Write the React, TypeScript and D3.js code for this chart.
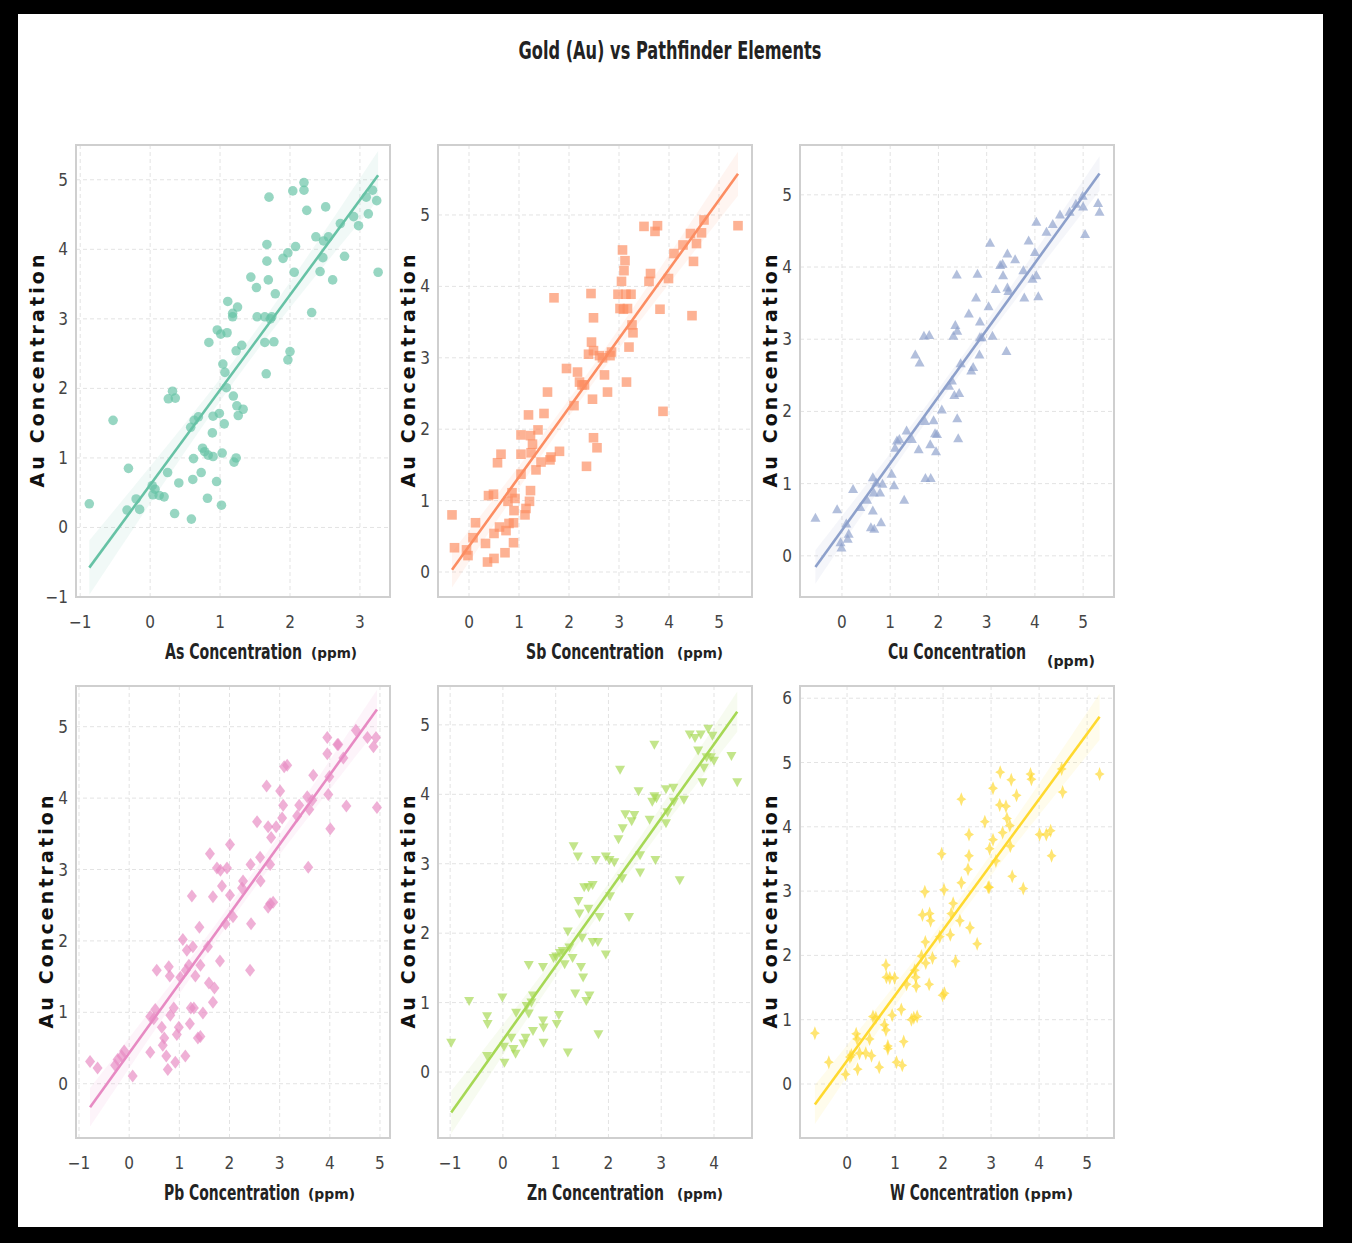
import React from "react";
import * as d3 from "d3";

const title = "Gold (Au) vs Pathfinder Elements";
const yAxisLabel = "Au Concentration";
const elements = ["As", "Sb", "Cu", "Pb", "Zn", "W"];
const colors = ["#66c2a5", "#fc8d62", "#8da0cb", "#e78ac3", "#a6d854", "#ffd92f"];
const markers = ["circle", "square", "triangleUp", "diamond", "triangleDown", "star"];

const xTicksList = [
  [-1, 0, 1, 2, 3],
  [0, 1, 2, 3, 4, 5],
  [0, 1, 2, 3, 4, 5],
  [-1, 0, 1, 2, 3, 4, 5],
  [-1, 0, 1, 2, 3, 4],
  [0, 1, 2, 3, 4, 5],
];
const yTicksList = [
  [-1, 0, 1, 2, 3, 4, 5],
  [0, 1, 2, 3, 4, 5],
  [0, 1, 2, 3, 4, 5],
  [0, 1, 2, 3, 4, 5],
  [0, 1, 2, 3, 4, 5],
  [0, 1, 2, 3, 4, 5, 6],
];
const xDomains = [
  [-1.06, 3.43], [-0.62, 5.66], [-0.87, 5.64],
  [-1.06, 5.2], [-1.23, 4.72], [-0.98, 5.56],
];
const yDomains = [
  [-1.0, 5.5], [-0.35, 5.98], [-0.57, 5.69],
  [-0.76, 5.57], [-0.95, 5.56], [-0.84, 6.19],
];
// fitted regression lines: [slope, intercept]
const fits = [
  [1.366, 0.611], [0.97, 0.36], [0.925, 0.355],
  [0.974, 0.43], [1.065, 0.462], [1.017, 0.362],
];

const asData: [number, number][] = [
  [-0.87, 0.34], [-0.53, 1.54], [-0.31, 0.85], [-0.33, 0.25], [-0.2, 0.41], [-0.15, 0.26],
  [0.03, 0.6], [0.04, 0.47], [0.07, 0.55], [0.13, 0.46], [0.2, 0.44], [0.25, 0.79],
  [0.26, 1.85], [0.32, 1.96], [0.36, 1.86], [0.35, 0.2], [0.41, 0.64], [0.59, 0.12],
  [0.61, 0.69], [0.62, 0.99], [0.58, 1.44], [0.63, 1.54], [0.69, 1.59], [0.73, 0.79],
  [0.75, 1.14], [0.78, 1.09], [0.82, 0.42], [0.84, 2.66], [0.83, 1.04], [0.9, 1.02],
  [0.89, 1.36], [0.9, 1.6], [0.95, 0.66], [0.96, 2.84], [0.99, 1.64], [1.01, 2.78],
  [1.02, 0.32], [1.03, 1.07], [1.04, 2.35], [1.06, 1.49], [1.07, 2.23], [1.09, 2.01],
  [1.1, 2.8], [1.11, 3.25], [1.18, 3.08], [1.18, 3.03], [1.19, 1.89], [1.2, 0.94],
  [1.23, 1.0], [1.23, 2.54], [1.24, 1.75], [1.25, 3.17], [1.26, 1.61], [1.31, 2.62],
  [1.33, 1.7], [1.44, 3.6], [1.52, 3.45], [1.53, 3.03], [1.64, 2.66], [1.66, 2.21],
  [1.64, 3.03], [1.67, 4.07], [1.67, 3.83], [1.69, 3.56], [1.7, 4.75], [1.72, 3.0],
  [1.74, 3.03], [1.77, 2.67], [1.79, 3.36], [1.9, 3.87], [1.97, 3.95], [1.97, 2.41],
  [2.0, 2.53], [2.04, 4.84], [2.06, 3.67], [2.08, 4.04], [2.2, 4.96], [2.2, 4.85],
  [2.24, 4.56], [2.31, 3.09], [2.37, 4.18], [2.43, 3.68], [2.47, 3.88], [2.48, 4.12],
  [2.51, 4.61], [2.55, 4.18], [2.61, 3.56], [2.72, 4.37], [2.78, 3.9], [2.91, 4.47],
  [2.98, 4.34], [3.09, 4.75], [3.12, 4.51], [3.18, 4.85], [3.24, 4.7], [3.26, 3.67],
];

const sbData: [number, number][] = [
  [-0.34, 0.8], [-0.29, 0.34], [-0.05, 0.31], [-0.02, 0.23], [0.08, 0.48], [0.13, 0.69],
  [0.33, 0.4], [0.37, 0.14], [0.39, 1.07], [0.49, 1.09], [0.5, 0.54], [0.5, 0.19],
  [0.57, 1.53], [0.64, 1.65], [0.61, 0.63], [0.72, 0.27], [0.74, 0.58], [0.78, 0.99],
  [0.8, 0.68], [0.86, 1.11], [0.89, 0.41], [0.89, 0.69], [0.9, 0.86], [0.92, 1.03],
  [1.04, 1.92], [1.04, 1.65], [1.04, 1.37], [1.12, 0.8], [1.14, 0.89], [1.19, 2.2],
  [1.21, 0.99], [1.23, 1.14], [1.23, 1.91], [1.27, 1.79], [1.24, 1.67], [1.34, 1.43],
  [1.38, 1.99], [1.44, 1.54], [1.5, 2.22], [1.57, 2.52], [1.62, 1.57], [1.64, 1.61],
  [1.7, 3.84], [1.81, 1.69], [1.95, 2.85], [2.1, 2.33], [2.17, 2.8], [2.21, 2.66],
  [2.26, 2.62], [2.31, 2.62], [2.35, 1.48], [2.39, 3.05], [2.44, 3.9], [2.45, 3.22],
  [2.47, 2.42], [2.49, 1.88], [2.49, 3.56], [2.49, 3.1], [2.56, 1.74], [2.61, 3.03],
  [2.67, 3.0], [2.71, 2.76], [2.77, 2.52], [2.82, 3.03], [2.85, 3.08], [2.98, 3.89],
  [3.02, 3.69], [3.05, 4.07], [3.07, 4.51], [3.09, 3.68], [3.1, 4.22], [3.12, 4.36],
  [3.14, 3.89], [3.15, 2.66], [3.17, 3.69], [3.2, 3.15], [3.24, 3.89], [3.26, 3.46],
  [3.28, 3.35], [3.5, 4.84], [3.6, 4.07], [3.63, 4.18], [3.72, 4.77], [3.77, 4.85],
  [3.82, 3.68], [3.88, 2.25], [3.99, 4.11], [4.1, 4.46], [4.28, 4.58], [4.43, 4.74],
  [4.46, 3.59], [4.49, 4.35], [4.55, 4.6], [4.65, 4.75], [4.7, 4.93], [5.38, 4.85],
];

const cuData: [number, number][] = [
  [-0.55, 0.52], [-0.1, 0.64], [-0.03, 0.18], [-0.01, 0.11], [0.09, 0.44], [0.12, 0.23],
  [0.14, 0.3], [0.23, 0.92], [0.38, 0.67], [0.52, 0.77], [0.6, 0.39], [0.64, 0.62],
  [0.64, 1.08], [0.67, 0.37], [0.66, 0.87], [0.71, 1.01], [0.79, 0.87], [0.81, 0.46],
  [0.84, 0.99], [1.03, 1.13], [1.08, 0.97], [1.1, 1.49], [1.14, 1.59], [1.19, 1.61],
  [1.29, 0.77], [1.34, 1.73], [1.45, 1.61], [1.52, 2.78], [1.61, 2.67], [1.59, 1.47],
  [1.7, 3.04], [1.72, 1.86], [1.73, 1.07], [1.81, 3.05], [1.83, 1.54], [1.84, 1.07],
  [1.9, 1.87], [1.93, 1.69], [1.97, 1.68], [1.95, 1.44], [2.07, 2.02], [2.22, 2.35],
  [2.28, 2.42], [2.31, 3.04], [2.33, 2.22], [2.35, 3.19], [2.38, 3.89], [2.39, 3.11],
  [2.39, 1.9], [2.41, 1.62], [2.43, 2.25], [2.46, 2.66], [2.63, 3.35], [2.68, 2.56],
  [2.72, 2.61], [2.78, 3.57], [2.81, 3.9], [2.85, 2.78], [2.86, 3.24], [2.86, 3.02],
  [2.9, 3.02], [3.04, 3.45], [3.07, 4.33], [3.12, 3.04], [3.19, 3.69], [3.28, 4.02],
  [3.33, 4.04], [3.34, 3.88], [3.41, 2.83], [3.43, 4.18], [3.43, 3.71], [3.45, 3.66],
  [3.59, 4.1], [3.76, 3.95], [3.78, 3.57], [3.87, 4.36], [3.95, 3.83], [4.0, 4.2],
  [4.03, 4.62], [4.03, 3.88], [4.07, 3.59], [4.24, 4.48], [4.37, 4.59], [4.52, 4.72],
  [4.72, 4.76], [4.85, 4.87], [4.99, 4.98], [5.0, 4.83], [5.04, 4.45], [5.31, 4.88],
  [5.34, 4.76],
];

const pbData: [number, number][] = [
  [-0.78, 0.31], [-0.63, 0.22], [-0.28, 0.26], [-0.23, 0.34], [-0.15, 0.39], [-0.1, 0.46],
  [0.07, 0.11], [0.42, 0.44], [0.42, 0.94], [0.49, 0.91], [0.52, 1.04], [0.55, 1.59],
  [0.65, 0.79], [0.67, 0.54], [0.7, 0.64], [0.74, 0.39], [0.77, 0.2], [0.79, 1.64],
  [0.81, 1.51], [0.82, 0.96], [0.89, 1.06], [0.92, 0.3], [0.95, 0.69], [0.99, 0.79],
  [1.02, 1.49], [1.07, 2.02], [1.12, 0.39], [1.13, 1.59], [1.15, 1.87], [1.19, 1.66],
  [1.21, 0.84], [1.23, 1.06], [1.25, 2.63], [1.27, 1.92], [1.29, 1.06], [1.32, 1.51],
  [1.37, 0.64], [1.4, 2.19], [1.42, 0.66], [1.42, 1.66], [1.47, 0.99], [1.57, 1.92],
  [1.59, 1.41], [1.61, 3.22], [1.67, 2.62], [1.67, 1.14], [1.7, 1.34], [1.75, 3.02],
  [1.81, 1.72], [1.82, 2.99], [1.85, 2.77], [1.92, 2.24], [1.95, 3.02], [2.01, 3.35],
  [2.01, 2.64], [2.07, 2.34], [2.25, 2.74], [2.27, 2.84], [2.42, 3.07], [2.43, 2.24],
  [2.41, 1.59], [2.55, 3.67], [2.61, 3.17], [2.62, 2.84], [2.74, 4.17], [2.77, 2.47],
  [2.77, 3.6], [2.81, 2.52], [2.81, 3.07], [2.83, 3.45], [2.87, 2.54], [2.93, 3.6],
  [3.01, 4.1], [3.05, 3.72], [3.07, 3.9], [3.09, 4.44], [3.15, 4.46], [3.35, 3.75],
  [3.39, 3.9], [3.55, 4.02], [3.57, 3.03], [3.59, 3.84], [3.65, 3.97], [3.67, 4.32],
  [3.95, 4.85], [3.95, 4.62], [3.97, 4.05], [3.99, 4.3], [4.01, 3.57], [4.15, 4.75],
  [4.17, 4.75], [4.27, 4.56], [4.33, 3.89], [4.52, 4.95], [4.75, 4.85], [4.87, 4.72],
  [4.92, 4.85], [4.94, 3.87],
];

const znData: [number, number][] = [
  [-0.98, 0.43], [-0.64, 1.03], [-0.3, 0.81], [-0.29, 0.7], [-0.3, 0.24], [-0.01, 1.08],
  [0.02, 0.37], [0.03, 0.14], [0.16, 0.5], [0.2, 0.34], [0.24, 0.27], [0.25, 0.86],
  [0.39, 0.42], [0.43, 0.5], [0.45, 0.96], [0.49, 1.55], [0.49, 0.85], [0.54, 1.01],
  [0.57, 1.11], [0.57, 0.6], [0.76, 1.52], [0.77, 0.65], [0.77, 0.43], [0.76, 0.75],
  [1.02, 0.7], [1.06, 0.83], [0.96, 1.65], [1.01, 1.67], [1.08, 1.72], [1.13, 1.75],
  [1.17, 1.56], [1.23, 0.29], [1.23, 2.03], [1.26, 1.8], [1.32, 1.65], [1.34, 3.26],
  [1.37, 1.14], [1.42, 3.11], [1.43, 2.47], [1.45, 2.29], [1.48, 1.52], [1.5, 1.94],
  [1.52, 1.37], [1.54, 2.67], [1.58, 1.03], [1.62, 2.67], [1.62, 2.36], [1.64, 1.11],
  [1.7, 2.7], [1.7, 1.88], [1.76, 3.06], [1.8, 1.88], [1.81, 0.55], [1.83, 2.24],
  [1.95, 1.7], [1.95, 3.11], [2.02, 3.06], [2.03, 2.54], [2.11, 3.03], [2.19, 3.36],
  [2.22, 4.36], [2.26, 2.8], [2.27, 3.52], [2.32, 3.72], [2.39, 2.24], [2.44, 3.62],
  [2.49, 3.71], [2.57, 4.05], [2.6, 3.13], [2.6, 2.88], [2.78, 3.64], [2.83, 3.9],
  [2.87, 4.72], [2.89, 3.06], [2.87, 3.98], [2.91, 3.95], [3.09, 4.08], [3.09, 3.59],
  [3.12, 3.75], [3.23, 4.1], [3.24, 3.9], [3.35, 2.77], [3.43, 3.93], [3.54, 4.87],
  [3.64, 4.82], [3.7, 4.64], [3.75, 4.87], [3.78, 4.18], [3.81, 4.39], [3.86, 4.54],
  [3.89, 4.95], [3.94, 4.54], [3.97, 4.85], [4.0, 4.49], [4.33, 4.56], [4.44, 4.18],
];

const wData: [number, number][] = [
  [-0.67, 0.79], [-0.38, 0.34], [-0.03, 0.15], [0.06, 0.42], [0.09, 0.45], [0.19, 0.78],
  [0.21, 0.7], [0.22, 0.23], [0.26, 0.48], [0.39, 0.48], [0.47, 0.7], [0.51, 0.44],
  [0.54, 1.05], [0.6, 1.03], [0.67, 0.26], [0.78, 0.92], [0.81, 0.84], [0.81, 1.85],
  [0.82, 1.66], [0.85, 0.59], [0.85, 0.55], [0.89, 1.65], [0.94, 1.07], [0.99, 1.65],
  [1.03, 0.34], [1.13, 1.16], [1.15, 0.29], [1.18, 0.66], [1.24, 1.55], [1.34, 1.0],
  [1.39, 1.03], [1.41, 1.77], [1.43, 1.66], [1.44, 1.52], [1.46, 1.05], [1.55, 1.99],
  [1.57, 2.63], [1.62, 2.99], [1.63, 2.21], [1.64, 1.88], [1.71, 1.55], [1.72, 2.65],
  [1.74, 2.54], [1.78, 1.96], [1.93, 2.29], [1.97, 3.58], [1.99, 1.38], [2.03, 1.41],
  [2.02, 3.02], [2.15, 2.32], [2.17, 2.65], [2.21, 2.81], [2.26, 1.91], [2.35, 2.54],
  [2.38, 3.13], [2.38, 4.43], [2.52, 3.34], [2.54, 3.55], [2.54, 3.88], [2.56, 2.43],
  [2.71, 2.18], [2.87, 4.08], [2.94, 3.06], [2.96, 3.06], [2.97, 3.66], [3.04, 4.6],
  [3.04, 3.8], [3.1, 3.47], [3.19, 4.85], [3.18, 4.34], [3.24, 3.91], [3.31, 4.32],
  [3.33, 4.13], [3.39, 4.02], [3.4, 3.7], [3.42, 4.73], [3.44, 3.23], [3.53, 4.49],
  [3.67, 3.04], [3.82, 4.82], [3.84, 4.74], [4.01, 3.88], [4.15, 3.88], [4.24, 3.94],
  [4.26, 3.55], [4.47, 4.9], [4.49, 4.54], [5.26, 4.82],
];

const datasets = [asData, sbData, cuData, pbData, znData, wData];

// layout
const W = 1352;
const H = 1243;
const colX = [76, 438, 800];
const rowY = [145, 686];
const PW = 314;
const PH = 452;
const yLabelX = [[37, 408, 770], [46, 408, 770]];
const xLabelOffsets = [
  { lx: 89, lw: 137, px: 235, pw: 46, pdy: 0 },
  { lx: 88, lw: 138, px: 239, pw: 46, pdy: 0 },
  { lx: 88, lw: 138, px: 247, pw: 48, pdy: 8 },
  { lx: 88, lw: 136, px: 232, pw: 47, pdy: 0 },
  { lx: 89, lw: 137, px: 239, pw: 46, pdy: 0 },
  { lx: 90, lw: 129, px: 224, pw: 49, pdy: 0 },
];

function markerPath(kind: string): string {
  switch (kind) {
    case "square":
      return "M-4.8,-4.8L4.8,-4.8L4.8,4.8L-4.8,4.8Z";
    case "triangleUp":
      return "M0,-5.5L5,3.5L-5,3.5Z";
    case "triangleDown":
      return "M0,5.5L5,-3.5L-5,-3.5Z";
    case "diamond":
      return "M0,-6.5L5,0L0,6.5L-5,0Z";
    case "star":
      return "M0,-7L1.9,-1.9L5,0L1.9,1.9L0,7L-1.9,1.9L-5,0L-1.9,-1.9Z";
    default:
      return d3.symbol(d3.symbolCircle, 72)() || "";
  }
}

function Panel({ i }: { i: number }) {
  const col = i % 3;
  const row = Math.floor(i / 3);
  const x0 = colX[col];
  const y0 = rowY[row];
  const data = datasets[i];
  const color = colors[i];
  const xs = d3.scaleLinear().domain(xDomains[i]).range([x0, x0 + PW]);
  const ys = d3.scaleLinear().domain(yDomains[i]).range([y0 + PH, y0]);
  const [slope, intercept] = fits[i];
  const [xmin, xmax] = d3.extent(data, (d) => d[0]) as [number, number];

  // confidence band from residuals
  const n = data.length;
  const mx = d3.mean(data, (d) => d[0]) as number;
  const sxx = d3.sum(data, (d) => (d[0] - mx) ** 2);
  const s = Math.sqrt(d3.sum(data, (d) => (d[1] - (slope * d[0] + intercept)) ** 2) / (n - 2));
  const half = (x: number) => 1.98 * s * Math.sqrt(1 / n + (x - mx) ** 2 / sxx);
  const xsamp = d3.range(0, 41).map((k) => xmin + ((xmax - xmin) * k) / 40);
  const band = d3
    .area<number>()
    .x((x) => xs(x))
    .y0((x) => ys(slope * x + intercept - half(x)))
    .y1((x) => ys(slope * x + intercept + half(x)))(xsamp);
  const line = d3
    .line<number>()
    .x((x) => xs(x))
    .y((x) => ys(slope * x + intercept))([xmin, xmax]);
  const mp = markerPath(markers[i]);
  const lo = xLabelOffsets[i];
  const labelBase = y0 + PH + 62;
  const clipId = `clip${i}`;
  const sy = 1.4;

  return (
    <g>
      <defs>
        <clipPath id={clipId}>
          <rect x={x0} y={y0} width={PW} height={PH} />
        </clipPath>
      </defs>
      <rect x={x0} y={y0} width={PW} height={PH} fill="#fff" />
      {xTicksList[i].map((t) => (
        <line key={"gx" + t} x1={xs(t)} x2={xs(t)} y1={y0} y2={y0 + PH} stroke="#e3e3e3" strokeWidth={1} strokeDasharray="4,3" />
      ))}
      {yTicksList[i].map((t) => (
        <line key={"gy" + t} x1={x0} x2={x0 + PW} y1={ys(t)} y2={ys(t)} stroke="#e3e3e3" strokeWidth={1} strokeDasharray="4,3" />
      ))}
      <g clipPath={`url(#${clipId})`}>
        <path d={band || ""} fill={color} opacity={0.09} />
        {data.map((d, k) => (
          <path key={k} d={mp} transform={`translate(${xs(d[0])},${ys(d[1])})`} fill={color} fillOpacity={0.68} />
        ))}
        <path d={line || ""} stroke={color} strokeWidth={2.6} fill="none" />
      </g>
      <rect x={x0} y={y0} width={PW} height={PH} fill="none" stroke="#cfcfcf" strokeWidth={2} />
      {xTicksList[i].map((t) => (
        <text key={"tx" + t} x={xs(t)} y={y0 + PH + 31} textAnchor="middle" fontFamily="'DejaVu Sans Condensed', 'DejaVu Sans'" fontSize={17} fill="#444">
          {t < 0 ? "\u2212" + Math.abs(t) : String(t)}
        </text>
      ))}
      {yTicksList[i].map((t) => (
        <text key={"ty" + t} x={x0 - 8} y={ys(t) + 6} textAnchor="end" fontFamily="'DejaVu Sans Condensed', 'DejaVu Sans'" fontSize={17} fill="#444">
          {t < 0 ? "\u2212" + Math.abs(t) : String(t)}
        </text>
      ))}
      <text
        transform={`translate(${yLabelX[row][col] + 7},${y0 + PH / 2}) rotate(-90)`}
        textAnchor="middle"
        fontFamily="'DejaVu Sans'"
        fontWeight="bold"
        fontSize={19}
        textLength={233}
        lengthAdjust="spacing"
        fill="#111"
      >
        {yAxisLabel}
      </text>
      <g transform={`translate(0,${labelBase}) scale(1,${sy})`}>
        <text
          x={x0 + lo.lx}
          y={0}
          fontFamily="'DejaVu Sans Condensed', 'DejaVu Sans'"
          fontWeight="bold"
          fontSize={15.5}
          textLength={lo.lw}
          lengthAdjust="spacingAndGlyphs"
          fill="#222"
        >
          {`${elements[i]} Concentration`}
        </text>
      </g>
      <text
        x={x0 + lo.px}
        y={labelBase - 1 + lo.pdy}
        fontFamily="'DejaVu Sans'"
        fontWeight="bold"
        fontSize={14}
        textLength={lo.pw}
        lengthAdjust="spacingAndGlyphs"
        fill="#222"
      >
        (ppm)
      </text>
    </g>
  );
}

export default function App() {
  return (
    <svg
      width={W}
      height={H}
      viewBox={`0 0 ${W} ${H}`}
      style={{ position: "fixed", left: 0, top: 0, display: "block" }}
    >
      <rect x={0} y={0} width={W} height={H} fill="#000" />
      <rect x={18} y={14} width={1305} height={1213} fill="#fff" />
      <text
        x={670}
        y={59}
        textAnchor="middle"
        fontFamily="'DejaVu Sans Condensed', 'DejaVu Sans'"
        fontWeight="bold"
        fontSize={24}
        textLength={303}
        lengthAdjust="spacingAndGlyphs"
        fill="#222"
      >
        {title}
      </text>
      <text x={552} y={173} fontFamily="'DejaVu Sans'" fontSize={12} fill="#333">-</text>
      {elements.map((_, i) => (
        <Panel key={i} i={i} />
      ))}
    </svg>
  );
}
